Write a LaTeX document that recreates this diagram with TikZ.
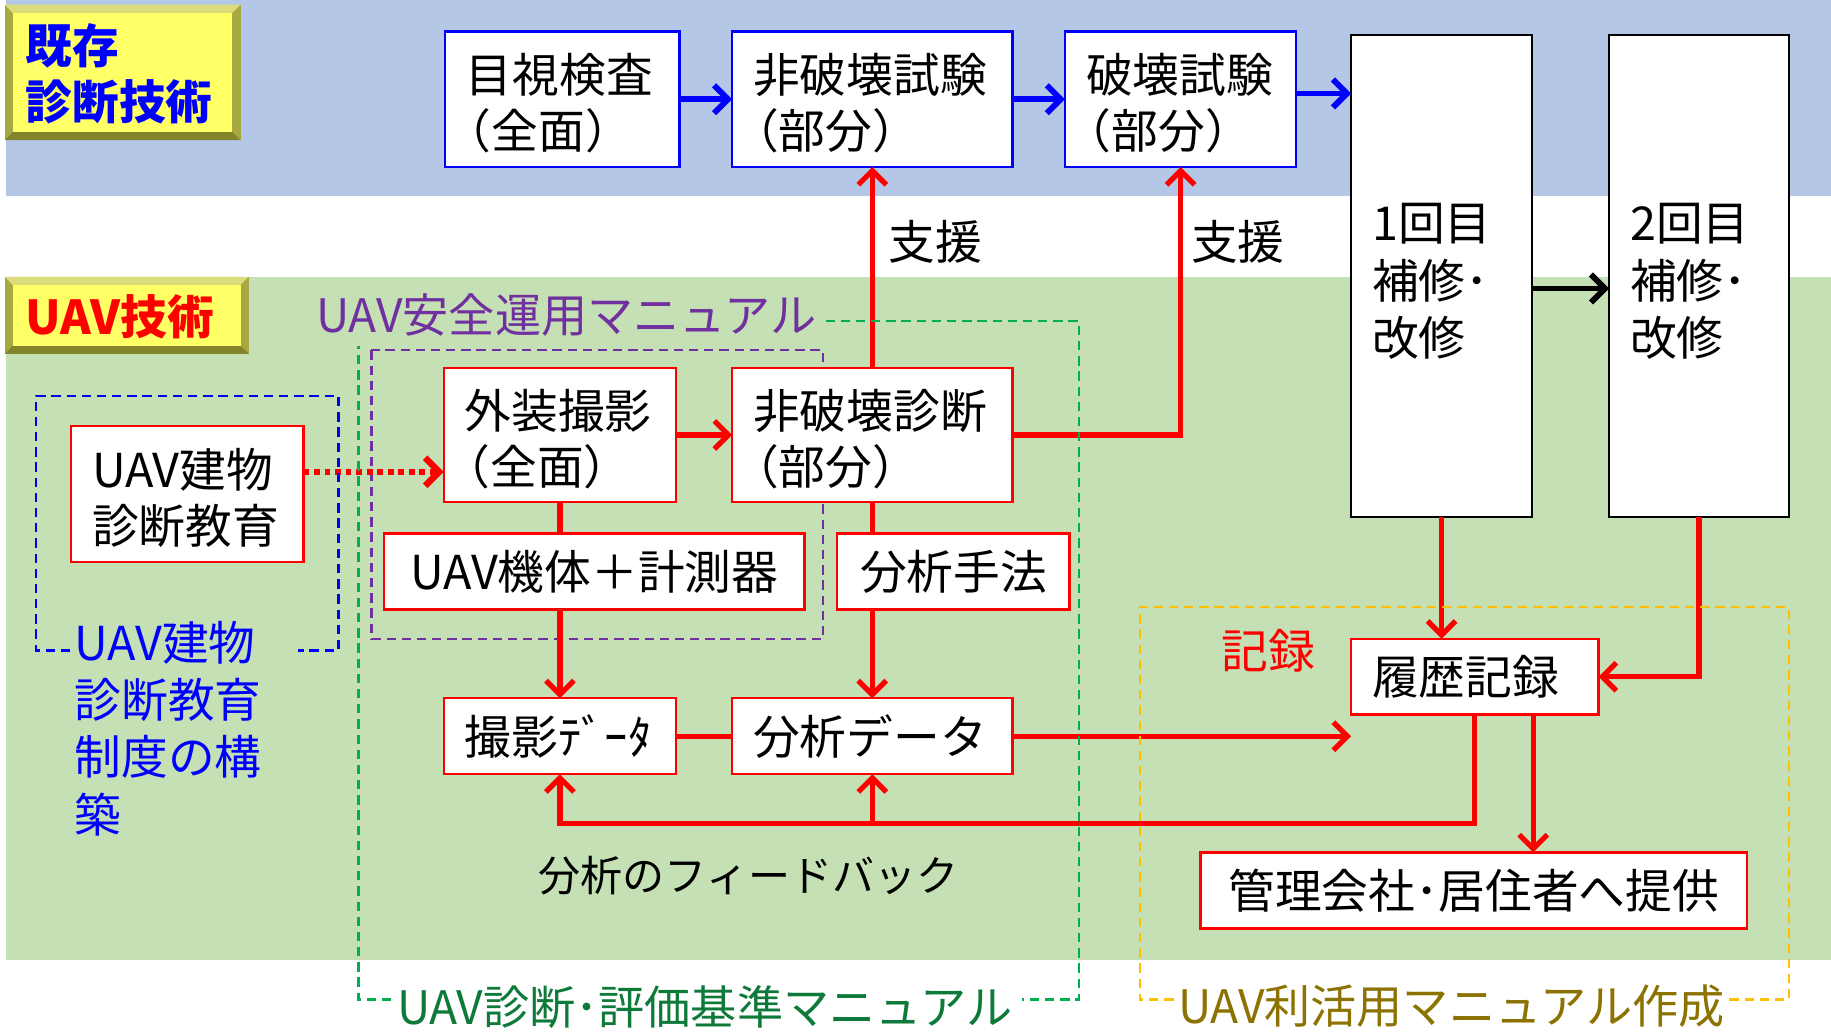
\documentclass[tikz,border=0pt]{standalone}
\usepackage{fontspec}
\usepackage{graphicx}
\setmainfont{Noto Sans CJK JP}
\usetikzlibrary{arrows.meta}
\definecolor{bandblue}{HTML}{B4C7E7}
\definecolor{bandgreen}{HTML}{C5E0B4}
\definecolor{cpurple}{HTML}{7030A0}
\definecolor{cgreen}{HTML}{00B050}
\definecolor{cdkgreen}{HTML}{0E7A3A}
\definecolor{corange}{HTML}{FFC000}
\definecolor{colive}{HTML}{8C7200}
\definecolor{lblface}{HTML}{FFFF66}
\definecolor{lbltop}{HTML}{DCDC7A}
\definecolor{lblside}{HTML}{A8A842}
\definecolor{lblbot}{HTML}{84842C}
\newcommand\lblbevel[4]{%
  \fill[lblside] (#1,#2) rectangle (#3,#4);
  \fill[lbltop] (#1,#2) -- (#3,#2) -- (#3-7,#2+7) -- (#1+7,#2+7) -- cycle;
  \fill[lblbot] (#1,#4) -- (#3,#4) -- (#3-7,#4-7) -- (#1+7,#4-7) -- cycle;
  \fill[lblface] (#1+7,#2+7) rectangle (#3-7,#4-7);
}
\newcommand\tstrut{\rule{0pt}{41pt}}
\newcommand\lparen{\leavevmode\kern-18pt（}
\begin{document}
\begin{tikzpicture}[x=1pt,y=-1pt,
  every node/.style={font=\fontsize{40}{48}\selectfont, inner sep=0pt, outer sep=0pt},
  sz/.style 2 args={minimum width=#1, minimum height=#2},
  lt/.style={align=left, inner xsep=18pt, text width=#1},
  bluebox/.style={draw=blue, line width=2pt, fill=white},
  redbox/.style={draw=red, line width=2pt, fill=white},
  blackbox/.style={draw=black, line width=2pt, fill=white},
  redline/.style={draw=red, line width=4.5pt},
  redarr/.style={draw=red, line width=4.5pt, -{Straight Barb[length=12pt,width=24pt]}},
  bluearr/.style={draw=blue, line width=5pt, -{Straight Barb[length=12pt,width=24pt]}},
  blackarr/.style={draw=black, line width=5pt, -{Straight Barb[length=12pt,width=24pt]}},
  dotarr/.style={draw=red, line width=5.5pt, dash pattern=on 5pt off 4pt, -{Straight Barb[length=12pt,width=24pt]}},
  dashbox/.style={line width=2pt, dash pattern=on 8pt off 5pt},
]
\useasboundingbox (0,0) rectangle (1568,884);
\fill[white] (0,0) rectangle (1568,884);
\fill[bandblue] (5,0) rectangle (1568,168);
\fill[bandgreen] (5,237) rectangle (1568,822);

% label plates
\lblbevel{4}{4}{206}{120}
\lblbevel{4}{237}{213}{303}
\node[anchor=west, align=left, text=blue, font=\fontsize{40}{48}\selectfont\bfseries] (kizon) at (22,63) {既存\\診断技術};
\node[anchor=west, text=red, font=\fontsize{40}{48}\selectfont\bfseries] (uavtech) at (22,271) {UAV技術};

% purple group lies under the boxes
\draw[cpurple, dashbox] (318,300) rectangle (705,547);

% top row
\node[bluebox, sz={201pt}{116pt}, lt=165pt] (mokushi) at (481.5,85) {\tstrut 目視検査\\\lparen 全面）};
\node[bluebox, sz={240pt}{116pt}, lt=204pt] (hihakaiS) at (747,85) {\tstrut 非破壊試験\\\lparen 部分）};
\node[bluebox, sz={198pt}{116pt}, lt=162pt] (hakaiS) at (1011,85) {\tstrut 破壊試験\\\lparen 部分）};

% repair boxes
\node[blackbox, sz={155pt}{413pt}, lt=119pt, font=\fontsize{40}{49}\selectfont] (rep1) at (1234.5,236.5) {\tstrut 1回目\\補修･\\改修};
\node[blackbox, sz={154pt}{413pt}, lt=118pt, font=\fontsize{40}{49}\selectfont] (rep2) at (1455,236.5) {\tstrut 2回目\\補修･\\改修};

% UAV boxes
\node[redbox, sz={199pt}{116pt}, lt=163pt] (educ) at (160.5,423) {\tstrut UAV建物\\診断教育};
\node[redbox, sz={199pt}{115pt}, lt=163pt] (gaiso) at (479.5,372.5) {\tstrut 外装撮影\\\lparen 全面）};
\node[redbox, sz={240pt}{115pt}, lt=204pt] (hihakaiD) at (747,372.5) {\tstrut 非破壊診断\\\lparen 部分）};
\node[redbox, sz={360pt}{65pt}] (kitai) at (509,489.5) {UAV機体＋計測器};
\node[redbox, sz={199pt}{65pt}] (shuho) at (816.5,489.5) {分析手法};
\node[redbox, sz={199pt}{65pt}, lt=163pt] (satsuei) at (479.5,630.5) {撮影ﾃﾞｰﾀ};
\node[redbox, sz={240pt}{65pt}, lt=204pt] (bunseki) at (747,630.5) {分析データ};
\node[redbox, sz={212pt}{65pt}, lt=176pt] (rireki) at (1263,579.5) {履歴記録};
\node[redbox, sz={468pt}{65pt}] (teikyo) at (1262,762.5) {管理会社･居住者へ提供};

% connectors (top row)
\draw[bluearr] (mokushi.east) -- (hihakaiS.west);
\draw[bluearr] (hihakaiS.east) -- (hakaiS.west);
\draw[bluearr] ([yshift=5pt]hakaiS.east) -- ([yshift=5pt]hakaiS.east -| rep1.west);
\draw[blackarr] ([yshift=-10.5pt]rep1.east) -- ([yshift=-10.5pt]rep1.east -| rep2.west);

% support arrows
\draw[redarr] (hihakaiD.north) -- (hihakaiS.south);
\draw[redarr] (hihakaiD.east) -| (hakaiS.south);

% UAV flow
\draw[dotarr] ([yshift=19pt]educ.east) -- ([yshift=19pt]educ.east -| gaiso.west);
\draw[redarr] (gaiso.east) -- (hihakaiD.west);
\draw[redline] (gaiso.south) -- (gaiso.south |- kitai.north);
\draw[redarr] (satsuei.north |- kitai.south) -- (satsuei.north);
\draw[redline] (hihakaiD.south) -- (hihakaiD.south |- shuho.north);
\draw[redarr] (bunseki.north |- shuho.south) -- (bunseki.north);
\draw[redline] (satsuei.east) -- (bunseki.west);
\coordinate (kirokuIn) at (bunseki.east -| rireki.west);
\draw[redarr] (bunseki.east) -- (kirokuIn);

% records
\draw[redarr] (rep1.south) -- (rep1.south |- rireki.north);
\draw[redarr] (rep2.south) |- (rireki.east);
\coordinate (fbrow) at (0,705);
\draw[redarr] (rireki.south) |- (fbrow -| satsuei.south) -- (satsuei.south);
\draw[redarr] (fbrow -| bunseki.south) -- (bunseki.south);
\draw[redarr] ([xshift=50pt]rireki.south) -- ([xshift=50pt]rireki.south |- teikyo.north);

% dashed groups
\draw[blue, dashbox] (60,557) -- (31,557) -- (31,339) -- (290,339) -- (290,557) -- (255,557);
\draw[cgreen, dashbox] (707,275) -- (924,275) -- (924,856) -- (875,856);
\draw[cgreen, dashbox] (335,856) -- (307,856) -- (307,296);
\draw[corange, dashbox] (1005,856) -- (976,856) -- (976,520) -- (1532,520) -- (1532,856) -- (1480,856);

% labels
\node (shien1) at (801,207) {支援};
\node (shien2) at (1060,207) {支援};
\node[text=red] (kiroku) at (1086,557) {記録};
\node[font=\fontsize{36}{44}\selectfont] (feedback) at (641,750) {分析のフィードバック};
\node[anchor=west, text=cpurple, font=\fontsize{39.5}{44}\selectfont] (safety) at (271,270) {UAV安全運用マニュアル};
\node[anchor=north west, align=left, text=blue, font=\fontsize{40}{49}\selectfont] (system) at (64,532) {UAV建物\\診断教育\\制度の構\\築};
\node[anchor=west, text=cdkgreen, font=\fontsize{39.5}{44}\selectfont] (criteria) at (340,862) {UAV診断･評価基準マニュアル};
\node[anchor=west, text=colive, font=\fontsize{39.5}{44}\selectfont] (usage) at (1009,862) {UAV利活用マニュアル作成};
\end{tikzpicture}
\end{document}
